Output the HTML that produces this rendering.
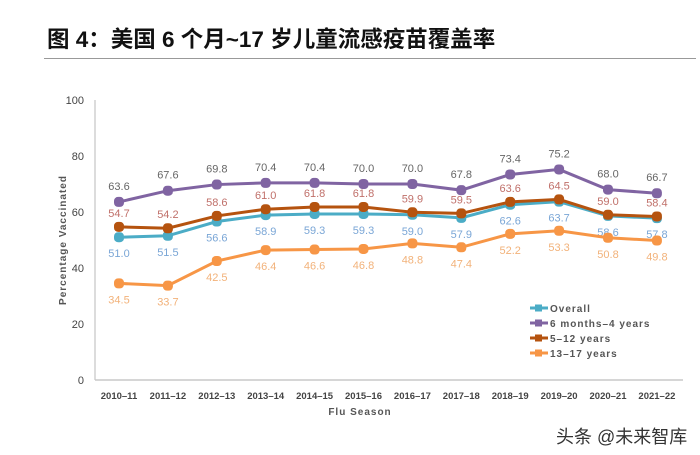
<!DOCTYPE html>
<html><head><meta charset="utf-8"><style>
body{margin:0;background:#fff;width:700px;height:455px;overflow:hidden;font-family:"Liberation Sans","Noto Sans CJK SC",sans-serif}
</style></head><body>
<div style="position:absolute;left:47px;top:22px;font-size:22.5px;font-weight:bold;color:#111;font-family:'Liberation Sans','Noto Sans CJK SC',sans-serif">图 4：美国 6 个月~17 岁儿童流感疫苗覆盖率</div>
<div style="position:absolute;left:44px;top:58px;width:652px;height:1px;background:#999"></div>
<svg id="c" width="700" height="455" style="position:absolute;left:0;top:0"></svg>
<div style="position:absolute;left:556px;top:423px;font-size:18px;color:#333">头条 @未来智库</div>
<script>
const categories=["2010–11","2011–12","2012–13","2013–14","2014–15","2015–16","2016–17","2017–18","2018–19","2019–20","2020–21","2021–22"];
const overall=[51.0,51.5,56.6,58.9,59.3,59.3,59.0,57.9,62.6,63.7,58.6,57.8];
const infants=[63.6,67.6,69.8,70.4,70.4,70.0,70.0,67.8,73.4,75.2,68.0,66.7];
const kids=[54.7,54.2,58.6,61.0,61.8,61.8,59.9,59.5,63.6,64.5,59.0,58.4];
const teens=[34.5,33.7,42.5,46.4,46.6,46.8,48.8,47.4,52.2,53.3,50.8,49.8];
const yTicks=[0,20,40,60,80,100];
const NS="http://www.w3.org/2000/svg",svg=document.getElementById('c');
const X=i=>119+i*48.9, Y=v=>380-v*2.8;
function mk(t,a,txt){const e=document.createElementNS(NS,t);for(const k in a)e.setAttribute(k,a[k]);if(txt!=null)e.textContent=txt;svg.appendChild(e);return e;}
let e=mk('line',{x1:95,y1:100,x2:95,y2:380,stroke:'#d0d0d0','stroke-width':1.5});

e=mk('line',{x1:95,y1:380,x2:683,y2:380,stroke:'#c8c8c8','stroke-width':1.5});

yTicks.forEach(v=>{const t=mk('text',{x:84,y:Y(v)+4,'text-anchor':'end','font-size':11,fill:'#444'},v);
});
categories.forEach((c,i)=>{const t=mk('text',{x:X(i),y:399,'text-anchor':'middle','font-size':9.5,'font-weight':'bold',fill:'#444'},c);
});
e=mk('text',{x:360,y:415,'text-anchor':'middle','font-size':10,'font-weight':'bold',fill:'#555','letter-spacing':'1'},'Flu Season');

e=mk('text',{x:0,y:0,'text-anchor':'middle','font-size':10,'font-weight':'bold',fill:'#555','letter-spacing':'1',transform:'translate(66,240) rotate(-90)'},'Percentage Vaccinated');

const series=[
 {n:'overall',d:overall,c:'#4bacc6',lc:'#7aa6d6',dy:20},
 {n:'teens',d:teens,c:'#f79646',lc:'#f2b27a',dy:20},
 {n:'kids',d:kids,c:'#b5530f',lc:'#c0706a',dy:-10},
 {n:'infants',d:infants,c:'#8064a2',lc:'#666',dy:-12}];
series.forEach(s=>{
 const p=mk('polyline',{points:s.d.map((v,i)=>X(i)+','+Y(v)).join(' '),fill:'none',stroke:s.c,'stroke-width':3});
 
 s.d.forEach((v,i)=>{const r=mk('rect',{x:X(i)-5,y:Y(v)-5,width:10,height:10,rx:4,fill:s.c});
  
  const t=mk('text',{x:X(i),y:Y(v)+s.dy,'text-anchor':'middle','font-size':11,fill:s.lc},v.toFixed(1));
  });
});
const leg=[['Overall','#4bacc6'],['6 months–4 years','#8064a2'],['5–12 years','#b5530f'],['13–17 years','#f79646']];
leg.forEach((l,i)=>{const y=308+i*15;
 const a=mk('line',{x1:530,y1:y,x2:548,y2:y,stroke:l[1],'stroke-width':3});
 
 const r=mk('rect',{x:535,y:y-3.5,width:7,height:7,fill:l[1]});
 
 const t=mk('text',{x:550,y:y+4,'font-size':10,'font-weight':'bold',fill:'#555','letter-spacing':'1'},l[0]);
 });
</script>
</body></html>
